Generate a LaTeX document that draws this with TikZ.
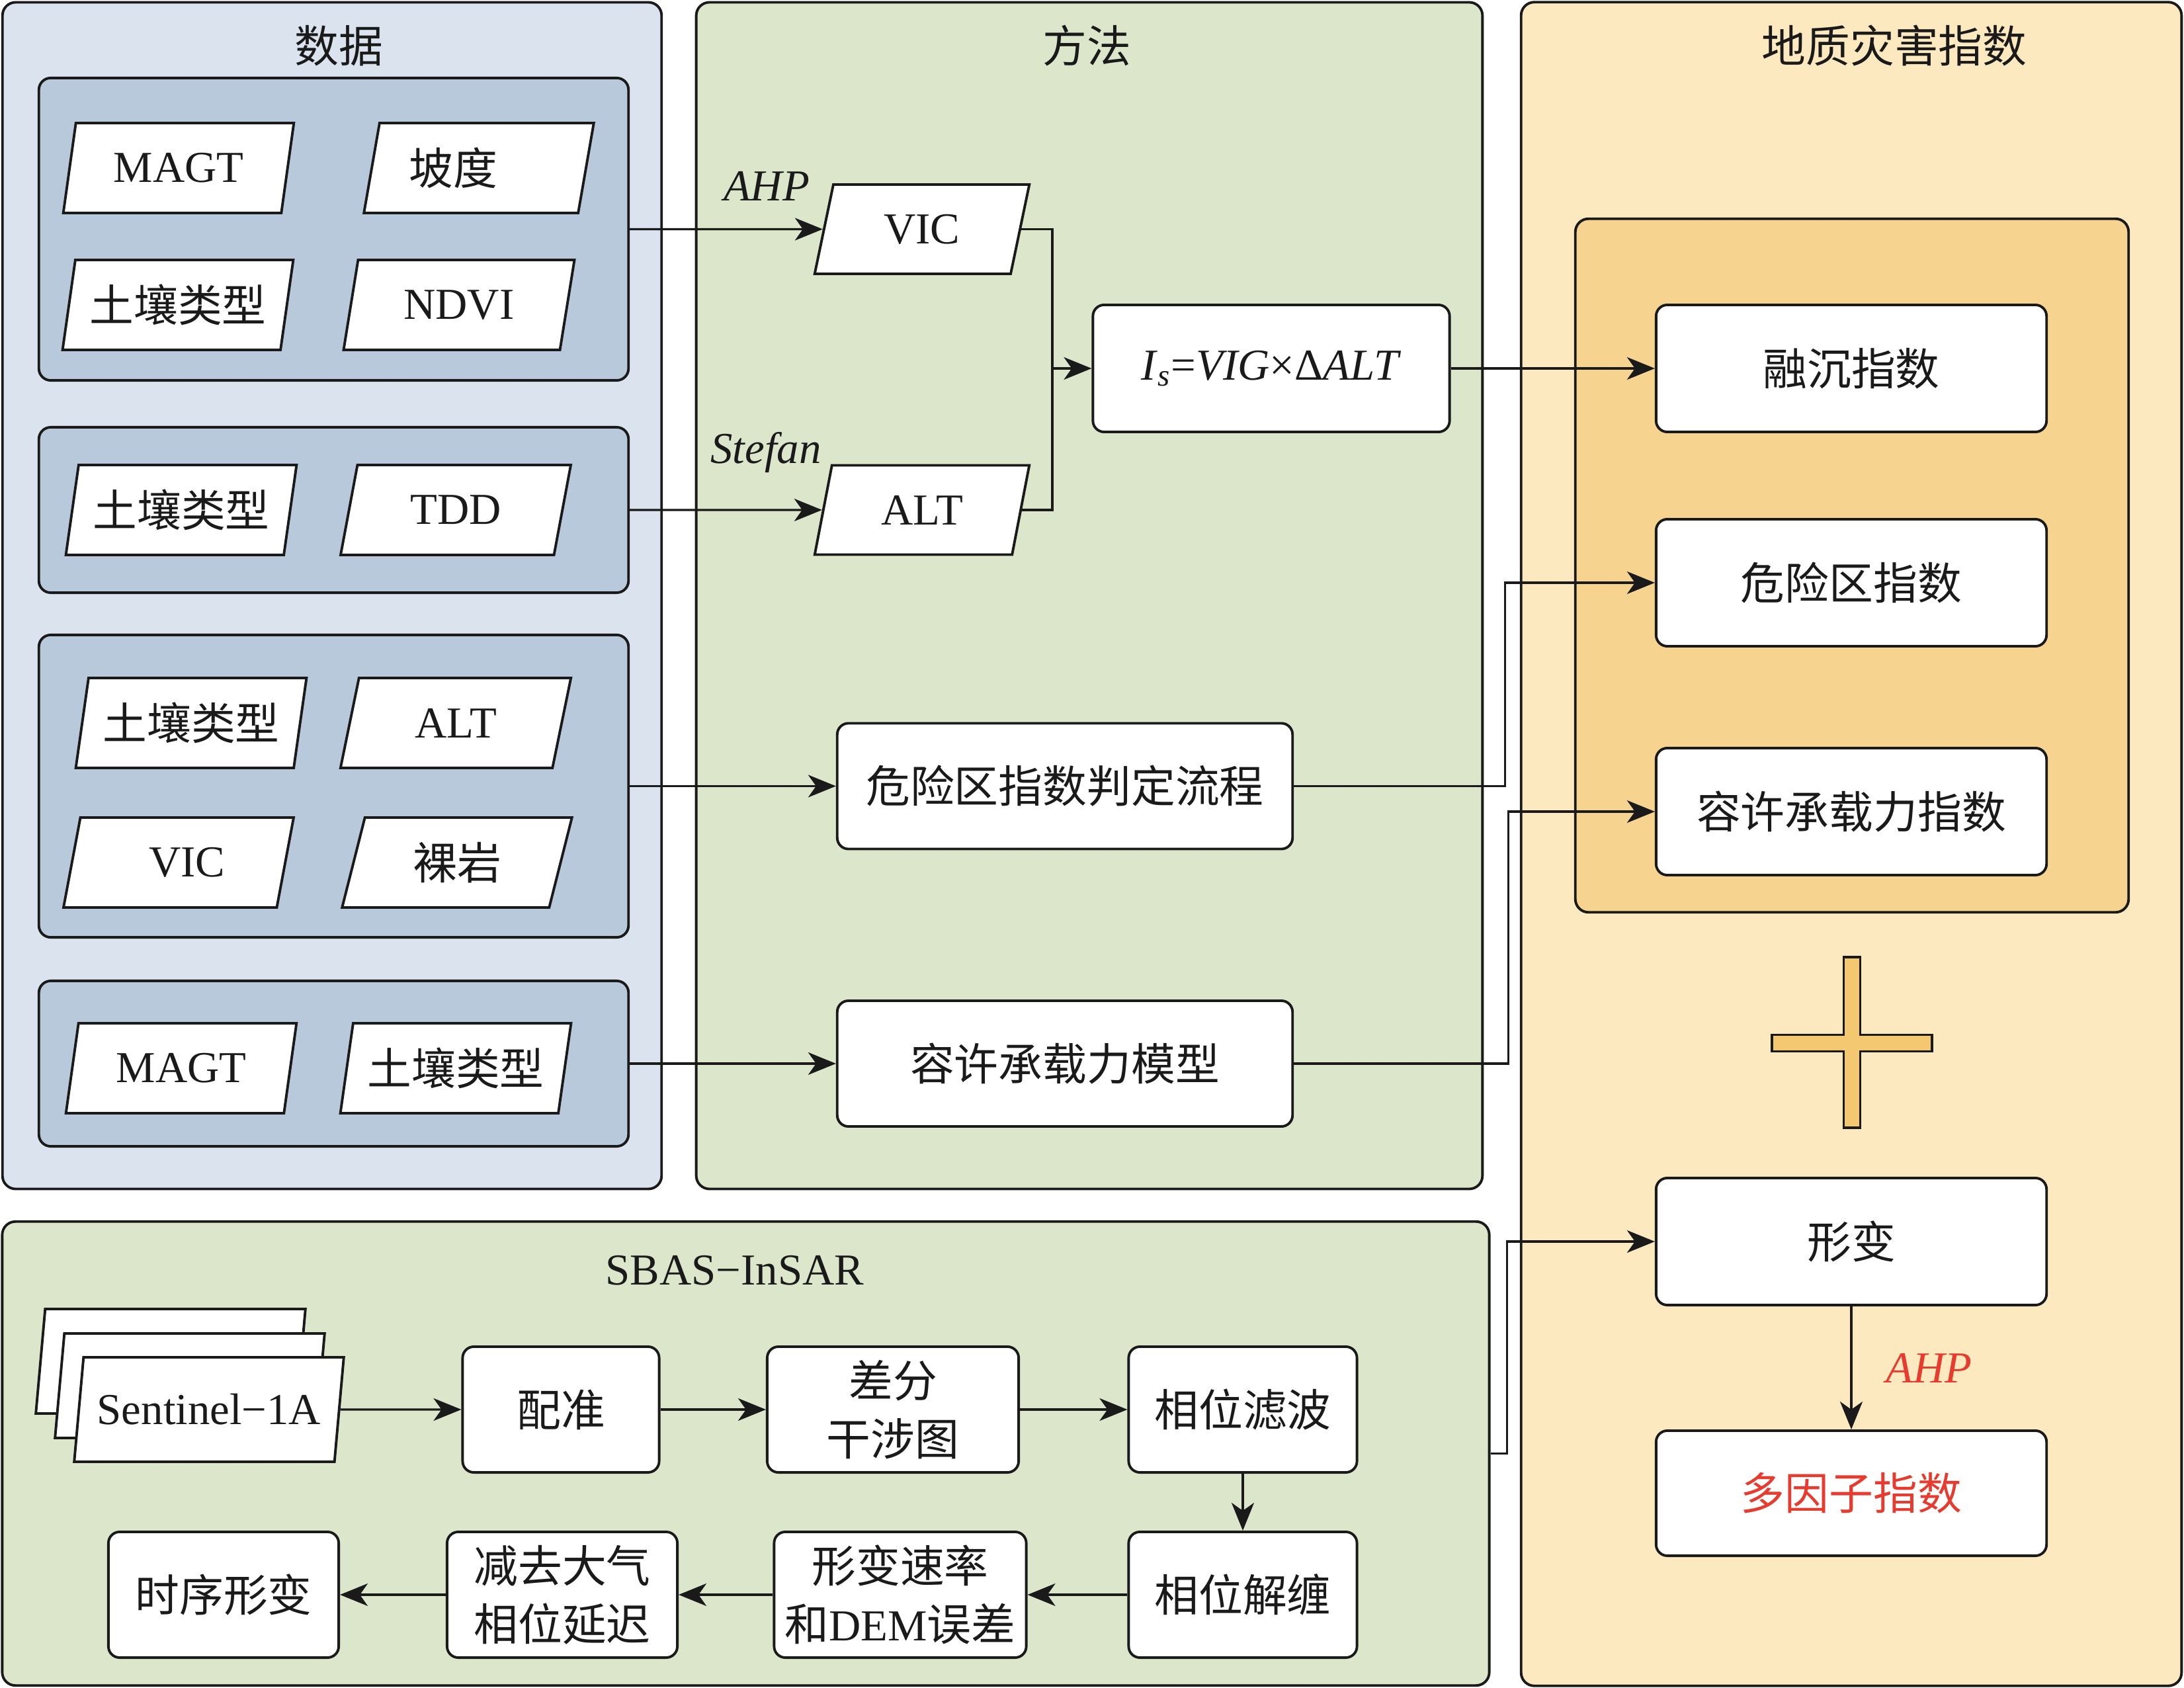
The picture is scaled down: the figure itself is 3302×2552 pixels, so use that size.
\documentclass[tikz,border=0pt]{standalone}
\usepackage{fontspec}
\setmainfont{Liberation Serif}
\newfontfamily\cjk{Noto Sans CJK SC}
\usepackage{tikz}
\usetikzlibrary{shapes,arrows,positioning,calc,arrows.meta}
\newcommand{\zh}[1]{{\cjk #1}}
\definecolor{datafill}{HTML}{DAE3EE}
\definecolor{groupfill}{HTML}{B8C9DC}
\definecolor{methodfill}{HTML}{DCE6CA}
\definecolor{hazardfill}{HTML}{FDE9BF}
\definecolor{indexfill}{HTML}{F6D48F}
\definecolor{plusfill}{HTML}{F3C871}
\definecolor{ahpred}{HTML}{E63B2E}
\definecolor{linecol}{HTML}{1A1A1A}

\begin{document}
\begin{tikzpicture}[x=0.01cm, y=-0.01cm, color=linecol, font=\fontsize{19}{25}\selectfont,
    panel/.style={draw=linecol, line width=1.1pt, rounded corners=0.2cm, inner sep=0pt},
    group/.style={draw=linecol, fill=groupfill, line width=1.1pt, rounded corners=0.18cm, inner sep=0pt, minimum width=8.91cm},
    para/.style={trapezium, trapezium left angle=75, trapezium right angle=105, trapezium stretches=true,
        draw=linecol, fill=white, line width=1.1pt, inner sep=0pt, minimum width=3.49cm, minimum height=1.36cm},
    box/.style={draw=linecol, fill=white, line width=1.1pt, rounded corners=0.17cm, align=center, inner sep=2pt, minimum height=1.9cm},
    title/.style={inner sep=0pt},
    link/.style={draw=linecol, line width=0.9pt},
    arr/.style={link, -{Stealth[length=0.42cm, width=0.34cm, inset=0.12cm]}}]
    \useasboundingbox (0,0) rectangle (3302,2552);

    % panels
    \node[panel, fill=datafill, minimum width=9.96cm, minimum height=17.93cm] (data) at (502,900.5) {};
    \node[panel, fill=methodfill, minimum width=11.88cm, minimum height=17.93cm] (method) at (1647,900.5) {};
    \node[panel, fill=hazardfill, minimum width=9.98cm, minimum height=25.44cm] (hazard) at (2799,1276) {};
    \node[panel, fill=methodfill, minimum width=22.47cm, minimum height=7.01cm] (sbas) at (1127.5,2197.5) {};
    \node[title] (datatitle) at (512,69) {\zh{数据}};
    \node[title] (methodtitle) at (1643,69) {\zh{方法}};
    \node[title] (hazardtitle) at (2864,69) {\zh{地质灾害指数}};
    \node[title] (sbastitle) at (1111,1921) {SBAS−InSAR};

    % data groups
    \node[group, minimum height=4.57cm] (g1) at (504.5,346.5) {};
    \node[group, minimum height=2.50cm] (g2) at (504.5,771) {};
    \node[group, minimum height=4.57cm] (g3) at (504.5,1188.5) {};
    \node[group, minimum height=2.50cm] (g4) at (504.5,1608) {};
    \node[para] (magt1) at (270,254) {MAGT};
    \node[para] (slope) at (724,254) {\makebox[2.1cm][l]{\zh{坡度}}};
    \node[para] (soil1) at (269,461) {\zh{土壤类型}};
    \node[para] (ndvi) at (694,461) {NDVI};
    \node[para] (soil2) at (274,771) {\zh{土壤类型}};
    \node[para] (tdd) at (689,771) {TDD};
    \node[para] (soil3) at (289,1093) {\zh{土壤类型}};
    \node[para] (alt1) at (689,1093) {ALT};
    \node[para] (vic1) at (270,1304) {\makebox[1.41cm][r]{VIC}};
    \node[para] (rock) at (691,1304) {\zh{裸岩}};
    \node[para] (magt2) at (274,1615) {MAGT};
    \node[para] (soil4) at (689,1615) {\zh{土壤类型}};

    % methods
    \node[para, minimum width=3.25cm, minimum height=1.35cm] (vic) at (1394,346.5) {VIC};
    \node[para, minimum width=3.25cm, minimum height=1.35cm] (alt) at (1394,771) {ALT};
    \node[title] (ahpvic) at (1159,281) {\textit{AHP}};
    \node[title] (stefan) at (1158,684) {\textit{Stefan}};
    \coordinate (join) at (1591,557);
    \node[box, minimum width=5.39cm, minimum height=1.92cm] (formula) at (1922,557)
        {\textit{I}\textsubscript{\textit{s}}=\textit{VIG}×Δ\textit{ALT}};
    \node[box, minimum width=6.88cm] (judge) at (1610,1188.5) {\zh{危险区指数判定流程}};
    \node[box, minimum width=6.88cm] (model) at (1610,1608) {\zh{容许承载力模型}};

    % hazard indices
    \node[draw=linecol, fill=indexfill, line width=1.1pt, rounded corners=0.2cm, inner sep=0pt,
        minimum width=8.36cm, minimum height=10.48cm] (indexbox) at (2800,855) {};
    \node[box, minimum width=5.9cm, minimum height=1.92cm] (thaw) at (2799,557) {\zh{融沉指数}};
    \node[box, minimum width=5.9cm, minimum height=1.92cm] (danger) at (2799,881) {\zh{危险区指数}};
    \node[box, minimum width=5.9cm, minimum height=1.92cm] (bearing) at (2799,1227) {\zh{容许承载力指数}};
    \draw[fill=plusfill, line width=1.1pt] (2787.5,1447) -- (2812.5,1447) -- (2812.5,1564.5) -- (2921,1564.5)
        -- (2921,1589.5) -- (2812.5,1589.5) -- (2812.5,1705) -- (2787.5,1705) -- (2787.5,1589.5)
        -- (2679,1589.5) -- (2679,1564.5) -- (2787.5,1564.5) -- cycle;
    \node[box, minimum width=5.9cm, minimum height=1.92cm] (deform) at (2799,1877) {\zh{形变}};
    \node[box, minimum width=5.9cm, minimum height=1.89cm, text=ahpred] (multi) at (2799,2257.5) {\zh{多因子指数}};

    % SBAS-InSAR chain
    \node[para, minimum width=4.08cm, minimum height=1.58cm] (sen3) at (258,2058) {\phantom{Sentinel−1A}};
    \node[para, minimum width=4.08cm, minimum height=1.58cm] (sen2) at (287,2095) {\phantom{Sentinel−1A}};
    \node[para, minimum width=4.08cm, minimum height=1.58cm] (sen1) at (316,2131) {Sentinel−1A};
    \node[box, minimum width=2.97cm] (reg) at (848,2131) {\zh{配准}};
    \node[box, minimum width=3.80cm] (diff) at (1350,2131) {\zh{差分}\\\zh{干涉图}};
    \node[box, minimum width=3.45cm] (filt) at (1879,2131) {\zh{相位滤波}};
    \node[box, minimum width=3.45cm] (unwr) at (1879,2411) {\zh{相位解缠}};
    \node[box, minimum width=3.81cm] (rate) at (1361,2411) {\zh{形变速率}\\\zh{和}DEM\zh{误差}};
    \node[box, minimum width=3.48cm] (atmo) at (850,2411) {\zh{减去大气}\\\zh{相位延迟}};
    \node[box, minimum width=3.48cm] (series) at (338,2411) {\zh{时序形变}};

    % connectors
    \draw[arr] (g1.east) -- (vic.west);
    \draw[arr] (g2.east) -- (alt.west);
    \draw[arr] (g3.east) -- (judge.west);
    \draw[arr] (g4.east) -- (model.west);
    \draw[link] (vic.east) -| (join) |- (alt.east);
    \draw[arr] (join) -- (formula.west);
    \draw[arr] (formula.east) -- (thaw.west);
    \draw[arr] (judge.east) -- ++(319,0) |- (danger.west);
    \draw[arr] (model.east) -- ++(324,0) |- (bearing.west);
    \draw[arr] (sbas.east) -- ++(25,0) |- (deform.west);
    \draw[arr] (deform.south) -- node[right=0.51cm, inner sep=0pt, text=ahpred] (ahpmulti) {\textit{AHP}} (multi.north);
    \draw[arr] (sen1.east) -- (reg.west);
    \draw[arr] (reg.east) -- (diff.west);
    \draw[arr] (diff.east) -- (filt.west);
    \draw[arr] (filt.south) -- (unwr.north);
    \draw[arr] (unwr.west) -- (rate.east);
    \draw[arr] (rate.west) -- (atmo.east);
    \draw[arr] (atmo.west) -- (series.east);
\end{tikzpicture}
\end{document}
